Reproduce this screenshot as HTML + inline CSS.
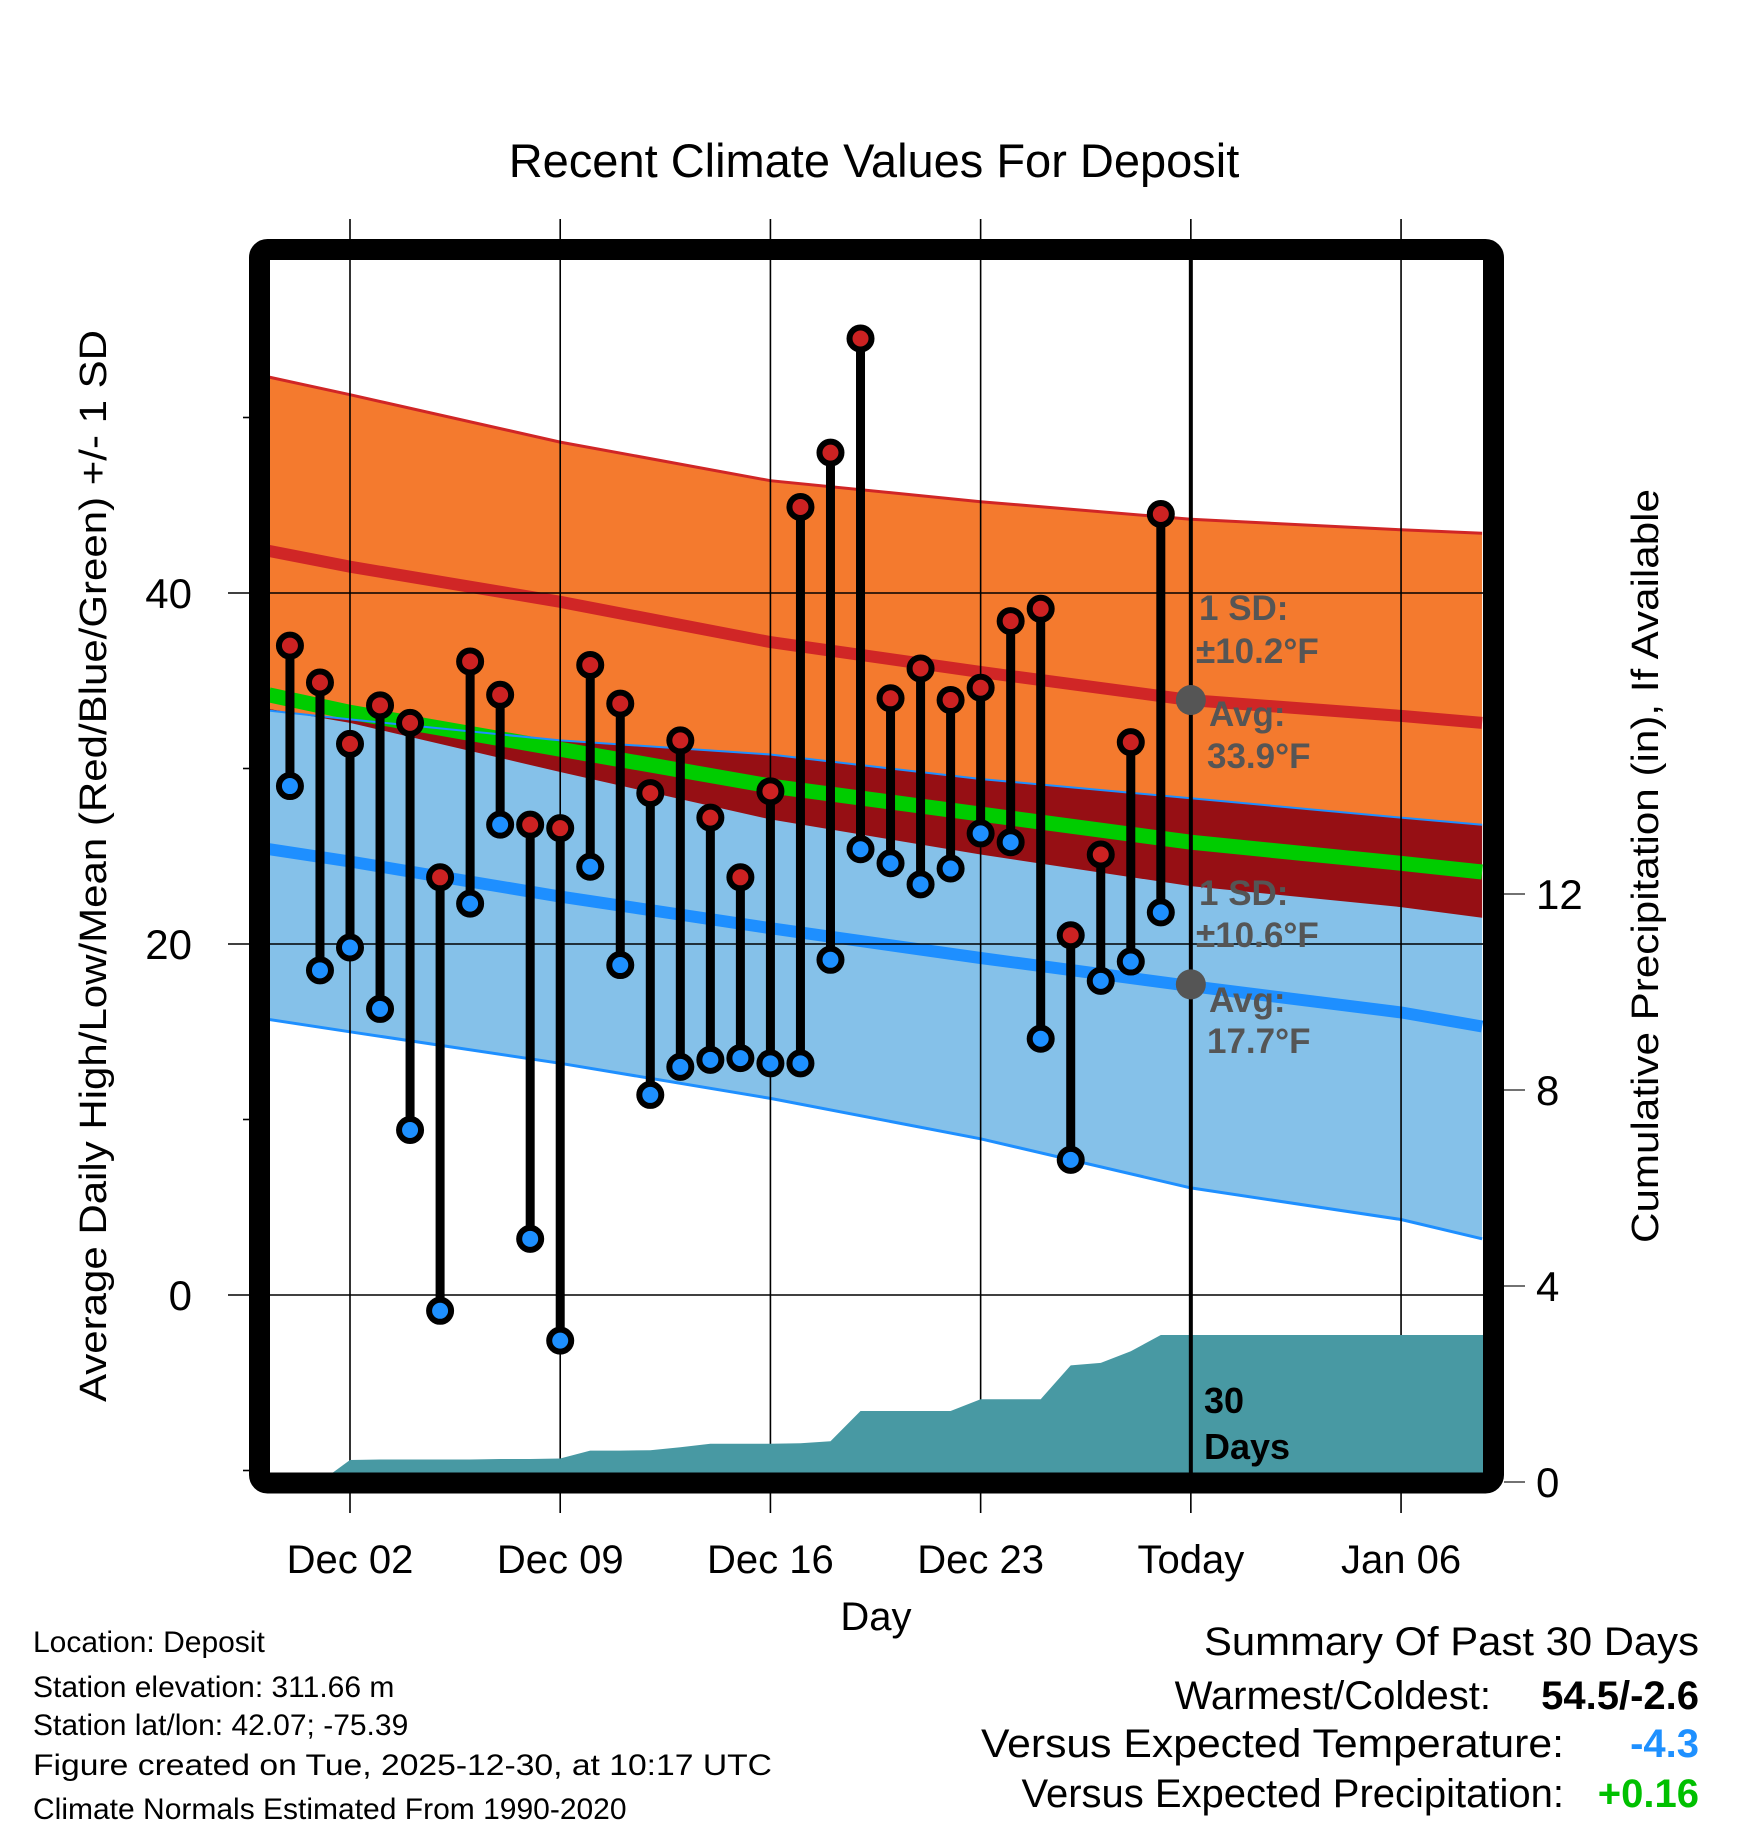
<!DOCTYPE html>
<html><head><meta charset="utf-8"><style>
html,body{margin:0;padding:0;background:#fff;}
svg text{font-family:"Liberation Sans",sans-serif;}
</style></head><body>
<svg id="chart" width="1748" height="1828" viewBox="0 0 1748 1828" xmlns="http://www.w3.org/2000/svg">
<defs><clipPath id="plotClip"><rect x="270" y="260" width="1213" height="1213"/></clipPath></defs>
<rect x="0" y="0" width="1748" height="1828" fill="#fff"/>
<text x="874" y="177" font-size="47" text-anchor="middle">Recent Climate Values For Deposit</text>
<g id="bands" clip-path="url(#plotClip)"></g>
<g id="grid"></g>
<g id="precip" clip-path="url(#plotClip)"></g>
<g id="marks"></g>
<rect x="259.5" y="249.5" width="1234" height="1233.5" rx="8" fill="none" stroke="#000" stroke-width="21"/>
<g id="axes"></g>
<text x="876" y="1630" font-size="40" text-anchor="middle">Day</text>
<text transform="translate(106,866) rotate(-90)" font-size="38" text-anchor="middle" textLength="1072" lengthAdjust="spacingAndGlyphs">Average Daily High/Low/Mean (Red/Blue/Green) +/- 1 SD</text>
<text transform="translate(1658,866) rotate(-90)" font-size="38" text-anchor="middle" textLength="754" lengthAdjust="spacingAndGlyphs">Cumulative Precipitation (in), If Available</text>
<g font-size="30">
<text x="33" y="1652">Location: Deposit</text>
<text x="33" y="1697">Station elevation: 311.66 m</text>
<text x="33" y="1735">Station lat/lon: 42.07; -75.39</text>
<text x="33" y="1775" textLength="739" lengthAdjust="spacingAndGlyphs">Figure created on Tue, 2025-12-30, at 10:17 UTC</text>
<text x="33" y="1819">Climate Normals Estimated From 1990-2020</text>
</g>
<g font-size="40">
<text x="1699" y="1655" text-anchor="end" textLength="495" lengthAdjust="spacingAndGlyphs">Summary Of Past 30 Days</text>
<text x="1491" y="1709" text-anchor="end">Warmest/Coldest:</text>
<text x="1699" y="1709" text-anchor="end" font-weight="bold">54.5/-2.6</text>
<text x="1564" y="1757" text-anchor="end" textLength="583" lengthAdjust="spacingAndGlyphs">Versus Expected Temperature:</text>
<text x="1699" y="1757" text-anchor="end" font-weight="bold" fill="#1e90ff">-4.3</text>
<text x="1564" y="1807" text-anchor="end">Versus Expected Precipitation:</text>
<text x="1699" y="1807" text-anchor="end" font-weight="bold" fill="#00c000">+0.16</text>
</g>
</svg>
<script>
// ---- data ----
const obsDays = [-1,0,1,2,3,4,5,6,7,8,9,10,11,12,13,14,15,16,17,18,19,20,21,22,23,24,25,26,27,28];
const highs = [37.0,34.9,31.4,33.6,32.6,23.8,36.1,34.2,26.8,26.6,35.9,33.7,28.6,31.6,27.2,23.8,28.7,44.9,48.0,54.5,34.0,35.7,33.9,34.6,38.4,39.1,20.5,25.1,31.5,44.5];
const lows = [29.0,18.5,19.8,16.3,9.4,-0.9,22.3,26.8,3.2,-2.6,24.4,18.8,11.4,13.0,13.4,13.5,13.2,13.2,19.1,25.4,24.6,23.4,24.3,26.3,25.8,14.6,7.7,17.9,19.0,21.8];
const normDays = [-1.7,1,8,15,22,29,36,38.7];
const highPlus = [52.3,51.3,48.6,46.4,45.2,44.2,43.6,43.4];
const highMean = [42.4,41.5,39.5,37.2,35.5,33.9,33.0,32.6];
const highMinus = [33.4,32.6,29.8,27.1,25.1,23.3,22.1,21.5];
const lowPlus = [33.3,32.8,31.6,30.8,29.4,28.3,27.2,26.8];
const meanTemp = [34.2,33.2,31.1,29.0,27.4,25.8,24.6,24.1];
const lowMean = [25.4,24.7,22.7,20.9,19.2,17.6,16.1,15.3];
const lowMinus = [15.7,15.0,13.2,11.2,8.9,6.1,4.3,3.2];
const precipDays = [-1,0,1,2,3,4,5,6,7,8,9,10,11,12,13,14,15,16,17,18,19,20,21,22,23,24,25,26,27,28,38.9];
const precip = [0,0,0.45,0.46,0.46,0.46,0.46,0.47,0.47,0.48,0.64,0.64,0.65,0.71,0.78,0.78,0.78,0.79,0.83,1.45,1.45,1.45,1.45,1.69,1.69,1.69,2.38,2.43,2.67,3.0,3.0];
const xTickDays = [1,8,15,22,29,36];
const xTickLabels = ["Dec 02","Dec 09","Dec 16","Dec 23","Today","Jan 06"];
const yMajor = [0,20,40];
const yMinor = [-10,10,30,50];
const y2Ticks = [0,4,8,12];
const todayDay = 29;
const avgHigh = 33.9, avgLow = 17.7;

// ---- axes ----
const X = d => 350 + (d - 1) * 30.03;
const Y = t => 1295 - t * 17.55;
const P = p => 1482 - p * 49;
const NS = "http://www.w3.org/2000/svg";
function mk(tag, attrs, parent){const e=document.createElementNS(NS,tag);for(const k in attrs)e.setAttribute(k,attrs[k]);parent.appendChild(e);return e;}
const bands=document.getElementById('bands'),grid=document.getElementById('grid'),pr=document.getElementById('precip'),marks=document.getElementById('marks'),axes=document.getElementById('axes');
const pts=(arr)=>normDays.map((d,i)=>X(d).toFixed(1)+','+Y(arr[i]).toFixed(1));
function band(top,bot,fill,name){
  const p=pts(top).concat(pts(bot).reverse()).join(' ');
  const e=mk('polygon',{points:p,fill:fill},bands);
  
  
}
function line(arr,color,w,name){
  const e=mk('polyline',{points:pts(arr).join(' '),fill:'none',stroke:color,'stroke-width':w},bands);
  
  
}
band(highPlus,highMinus,'#f47a2e','high-sd-band');
band(lowPlus,lowMinus,'#85c1e9','low-sd-band');
band(lowPlus,highMinus,'#960f14','overlap-band');
line(meanTemp,'#00cc00',15,'mean-temp-line');
line(highMean,'#d02626',12,'mean-high-line');
line(lowMean,'#1e8fff',12,'mean-low-line');
line(highPlus,'#d02626',3,'high-plus-sd-line');
line(lowPlus,'#1e8fff',2,'low-plus-sd-line');
line(lowMinus,'#1e8fff',3,'low-minus-sd-line');

// grid
xTickDays.forEach((d,i)=>{
  const x=X(d);
  const g=mk('line',{x1:x,x2:x,y1:219,y2:1513,stroke:'#000','stroke-width':1.6},grid);
  
  
  const t=mk('text',{x:x,y:1573,'font-size':40,'text-anchor':'middle'},axes);
  t.textContent=xTickLabels[i];
  
  
});
yMajor.forEach(v=>{
  const y=Y(v);
  const g=mk('line',{x1:228,x2:1483,y1:y,y2:y,stroke:'#000','stroke-width':1.6},grid);
  
  
  const t=mk('text',{x:192,y:y+15,'font-size':42,'text-anchor':'end'},axes);
  t.textContent=String(v);
  
  
});
yMinor.forEach(v=>{
  const y=Y(v);
  const g=mk('line',{x1:243,x2:250,y1:y,y2:y,stroke:'#000','stroke-width':1.6},axes);
  
  
});
y2Ticks.forEach(v=>{
  const y=P(v);
  const g=mk('line',{x1:1504,x2:1525,y1:y,y2:y,stroke:'#444','stroke-width':1.6},axes);
  
  
  const t=mk('text',{x:1536,y:y+15,'font-size':42},axes);
  t.textContent=String(v);
  
  
});

// precip area
{
  let p=precipDays.map((d,i)=>X(d).toFixed(1)+','+P(precip[i]).toFixed(1));
  p.push(X(precipDays[precipDays.length-1]).toFixed(1)+','+P(0));
  p.push(X(precipDays[0]).toFixed(1)+','+P(0));
  const e=mk('polygon',{points:p.join(' '),fill:'#4899a3'},pr);
  
  
}

// today line
{
  const e=mk('line',{x1:X(todayDay),x2:X(todayDay),y1:260,y2:1473,stroke:'#000','stroke-width':4},marks);
  
  
}
// stems and dots
obsDays.forEach((d,i)=>{
  const x=X(d);
  const s=mk('line',{x1:x,x2:x,y1:Y(highs[i]),y2:Y(lows[i]),stroke:'#000','stroke-width':9},marks);
  
  
});
obsDays.forEach((d,i)=>{
  const x=X(d);
  const h=mk('circle',{cx:x,cy:Y(highs[i]),r:11,fill:'#cc2222',stroke:'#000','stroke-width':6},marks);
  
  
  const l=mk('circle',{cx:x,cy:Y(lows[i]),r:11,fill:'#1e90ff',stroke:'#000','stroke-width':6},marks);
  
  
});
// avg markers and annotations
{
  const a=mk('circle',{cx:X(todayDay),cy:Y(avgHigh),r:15,fill:'#555'},marks);
  
  
  const b=mk('circle',{cx:X(todayDay),cy:Y(avgLow),r:15,fill:'#555'},marks);
  
  
  const ann=[["1 SD:",1199,620],["\u00b110.2\u00b0F",1196,663],["Avg:",1209,726],["33.9\u00b0F",1207,768],
             ["1 SD:",1199,905],["\u00b110.6\u00b0F",1196,947],["Avg:",1209,1012],["17.7\u00b0F",1207,1053]];
  ann.forEach(a=>{
    const t=mk('text',{x:a[1],y:a[2],'font-size':35,'font-weight':'bold',fill:'#555'},marks);
    t.textContent=a[0];
    
    
  });
  const t1=mk('text',{x:1204,y:1413,'font-size':36,'font-weight':'bold',fill:'#000'},marks);
  t1.textContent="30";
  
  
  const t2=mk('text',{x:1204,y:1459,'font-size':36,'font-weight':'bold',fill:'#000'},marks);
  t2.textContent="Days";
  
  
}
</script>
</body></html>
